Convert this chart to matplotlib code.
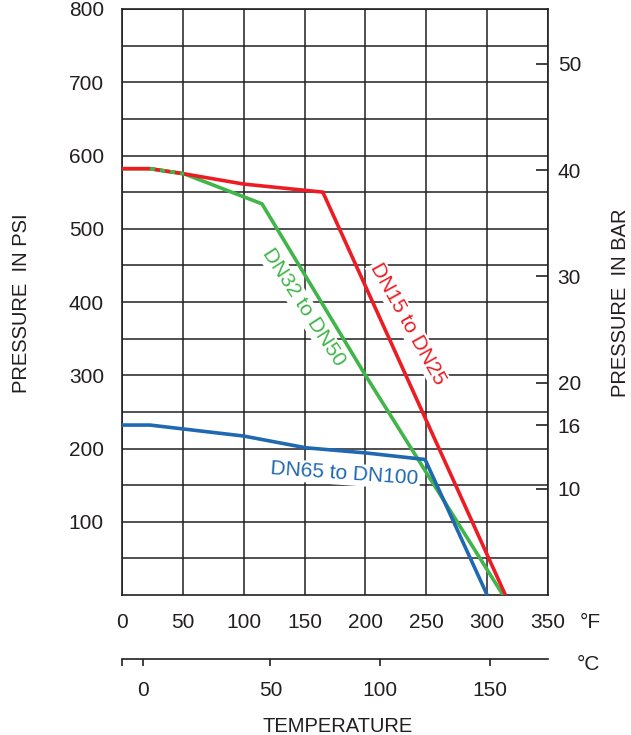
'''Pressure / temperature rating chart (psi + bar, °F + °C)'''

import matplotlib
matplotlib.use('Agg')
import matplotlib.pyplot as plt

plt.rcParams['font.family'] = ['Liberation Sans', 'DejaVu Sans']

# data: temperature in °F, pressure in psi
temp_red = [0, 23, 51, 100, 165, 315]
psi_red = [582, 582, 575, 561, 550, 0]
temp_green = [0, 23, 51, 115, 200, 313]
psi_green = [582, 582, 575, 534, 300, 0]
temp_blue = [0, 23, 100, 151, 200, 249, 300]
psi_blue = [232, 232, 217, 201, 194, 185, 0]

f_ticks = [0, 50, 100, 150, 200, 250, 300, 350]
psi_ticks = [100, 200, 300, 400, 500, 600, 700, 800]
psi_minor = [50, 150, 250, 350, 450, 550, 650, 750]
bar_ticks = [10, 16, 20, 30, 40, 50]
# °C scale is drawn under the °F one, positions as they appear (in °F)
c_tick_pos = [17, 122, 212, 302]
c_tick_labels = ['0', '50', '100', '150']

PSI_PER_BAR = 14.5038

RED = '#ed1c24'
GREEN = '#40b549'
BLUE = '#1f68b2'
INK = '#231f20'
W, H = 631, 735
FS = 15

fig = plt.figure(figsize=(W / 100, H / 100), dpi=100)
ax = fig.add_axes([122 / W, 140 / H, 426 / W, 586 / H])
ax.set_xlim(0, 350)
ax.set_ylim(0, 800)
ax.set_xticks(f_ticks)
ax.set_yticks(psi_ticks)
ax.set_yticks(psi_minor, minor=True)
ax.set_axisbelow(True)
ax.grid(which='both', color=INK, lw=1.1)
ax.tick_params(which='both', length=0, labelsize=FS, colors=INK, pad=13)
for s in ax.spines.values():
    s.set_color(INK)
    s.set_linewidth(1.2)

# curves
ax.plot(temp_green, psi_green, color=GREEN, lw=2.6, zorder=3, solid_joinstyle='miter')
ax.plot(temp_blue, psi_blue, color=BLUE, lw=2.6, zorder=3, solid_joinstyle='miter')
ax.plot(temp_red, psi_red, color=RED, lw=2.6, zorder=3, solid_joinstyle='miter')
# shared part red / green -> alternating dashes
ax.plot(temp_green[1:3], psi_green[1:3], color=GREEN, lw=2.6, zorder=3.5,
        dashes=(1.4, 1.4), solid_capstyle='butt')

box = dict(fc='white', ec='none', pad=1)
ax.text(149, 393, 'DN32 to DN50', color=GREEN, fontsize=15, rotation=-57,
        ha='center', va='center', rotation_mode='anchor', bbox=box, zorder=2.5)
ax.text(235, 370, 'DN15 to DN25', color=RED, fontsize=15, rotation=-61,
        ha='center', va='center', rotation_mode='anchor', bbox=box, zorder=2.5)
ax.text(183, 165, 'DN65 to DN100', color=BLUE, fontsize=15, rotation=-4,
        ha='center', va='center', rotation_mode='anchor', bbox=box, zorder=2.5)

# bar scale on the right
ax2 = ax.twinx()
ax2.set_ylim(0, 800 / PSI_PER_BAR)
ax2.set_yticks(bar_ticks)
ax2.tick_params(direction='in', length=8.5, width=1.2, color=INK, labelcolor=INK,
                labelsize=FS, pad=7)
for s in ax2.spines.values():
    s.set_visible(False)

# °C scale below
axc = fig.add_axes([122 / W, 1 - 659 / H, 426 / W, 1e-4])
axc.set_xlim(0, 350)
axc.set_yticks([])
axc.set_xticks([0] + c_tick_pos)
axc.set_xticklabels([''] + c_tick_labels)
axc.tick_params(direction='out', length=5, width=1.2, color=INK, labelcolor=INK,
                labelsize=FS, pad=10.5)
axc.patch.set_visible(False)
for k in ['left', 'right', 'top']:
    axc.spines[k].set_visible(False)
axc.spines['bottom'].set_color(INK)
axc.spines['bottom'].set_linewidth(1.2)

fig.text(22 / W, 1 - 303 / H, 'PRESSURE  IN PSI', rotation=90, ha='center',
         va='center', fontsize=14.5, color=INK)
fig.text(621 / W, 1 - 303 / H, 'PRESSURE  IN BAR', rotation=90, ha='center',
         va='center', fontsize=14.5, color=INK)
fig.text(590 / W, 1 - 622 / H, '°F', ha='center', va='center', fontsize=FS, color=INK)
fig.text(588 / W, 1 - 665 / H, '°C', ha='center', va='center', fontsize=FS, color=INK)
fig.text(338 / W, 1 - 726 / H, 'TEMPERATURE', ha='center', va='center',
         fontsize=14.5, color=INK)

fig.savefig('out.png', dpi=100, facecolor='white')
